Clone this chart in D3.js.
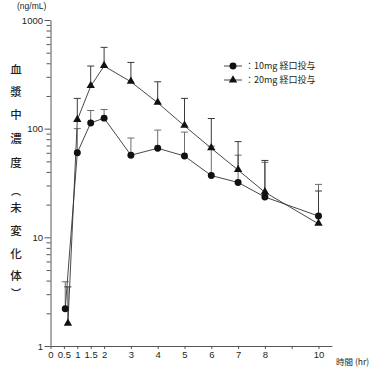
<!DOCTYPE html>
<html>
<head>
<meta charset="utf-8">
<script src="https://cdn.jsdelivr.net/npm/d3@7"></script>
<style>
  html, body { margin: 0; padding: 0; background: #fff; }
  svg { display: block; }
</style>
</head>
<body>
<div id="chart"></div>
<script>
// Data (ng/mL)
const timesLow = [0.55, 1, 1.5, 2, 3, 4, 5, 6, 7, 8, 10];
const meanLow = [2.2, 60, 113, 125, 57, 66, 56, 37, 32, 23.5, 15.7];
const upperLow = [3.9, 100, 147, 150, 82, 97, 93, 69, 57, 49, 30.7];

const timesHigh = [0.65, 1, 1.5, 2, 3, 4, 5, 6, 7, 8, 10];
const meanHigh = [1.6, 120, 246, 377, 270, 173, 106, 66, 41.6, 26, 13.3];
const upperHigh = [3.5, 190, 377, 560, 407, 270, 190, 124, 76, 51, 26.7];

const xTicks = [0, 0.5, 1, 1.5, 2, 3, 4, 5, 6, 7, 8, 9, 10];
const yMajorTicks = [1, 10, 100, 1000];
const legendLabels = ['：10mg 経口投与', '：20mg 経口投与'];
const yTitleChars = ['血', '漿', '中', '濃', '度', '︵', '未', '変', '化', '体', '︶'];

const width = 376;
const height = 370;
const LATIN = 'Helvetica, Arial, "Liberation Sans", sans-serif';
const CJK = '"Noto Sans CJK JP", "Noto Sans", sans-serif';
const INK = '#231f20';

const svg = d3.select('#chart')
    .append('svg')
    .attr('width', width)
    .attr('height', height);

// Scales
const x = d3.scaleLinear()
    .domain([0, 10.5])
    .range([50.5, 50.5 + 10.5 * 26.8]);

const y = d3.scaleLog()
    .domain([1, 1000])
    .range([346, 20]);

// Minor y ticks (2..9 in every decade)
const yMinorTicks = [];
[1, 10, 100].forEach(d => {
    for (let k = 2; k <= 9; k++) yMinorTicks.push(d * k);
});

// Y axis: majors with labels, minors without
svg.append('g')
    .attr('class', 'y-axis')
    .attr('transform', `translate(${x(0)},0)`)
    .call(d3.axisLeft(y)
        .tickValues(yMajorTicks)
        .tickFormat(d3.format('d'))
        .tickSize(6)
        .tickSizeOuter(0)
        .tickPadding(1.5));

svg.append('g')
    .attr('class', 'y-minor')
    .attr('transform', `translate(${x(0)},0)`)
    .call(d3.axisLeft(y)
        .tickValues(yMinorTicks)
        .tickFormat('')
        .tickSize(4))
    .select('.domain').remove();

// X axis
svg.append('g')
    .attr('class', 'x-axis')
    .attr('transform', `translate(0,${y(1)})`)
    .call(d3.axisBottom(x)
        .tickValues(xTicks)
        .tickFormat(d => d === 9 ? '' : d)
        .tickSize(3)
        .tickSizeOuter(0)
        .tickPadding(2));

svg.selectAll('.x-axis, .y-axis, .y-minor')
    .style('font-family', LATIN)
    .style('font-size', '9.5px')
    .style('color', INK);

svg.selectAll('.domain, .tick line')
    .attr('stroke', '#444')
    .attr('stroke-width', 0.9);

// Unit label and axis titles
svg.append('text')
    .attr('x', 17)
    .attr('y', 9)
    .style('font-family', LATIN)
    .style('font-size', '8.5px')
    .style('fill', INK)
    .text('(ng/mL)');

svg.append('text')
    .attr('x', 336)
    .attr('y', 365)
    .style('font-family', CJK)
    .style('font-size', '8.5px')
    .style('fill', INK)
    .text('時間 (hr)');

// vertical title, one glyph per row (brackets a bit smaller)
const yTitlePos = [70, 92, 115, 139, 163, 191, 208, 231, 254, 276, 293];
const isBracket = d => d === '︵' || d === '︶';
svg.append('g')
    .attr('class', 'y-title')
    .selectAll('text')
    .data(yTitleChars)
    .join('text')
    .attr('x', 16)
    .attr('y', (d, i) => yTitlePos[i])
    .attr('dy', '0.35em')
    .attr('text-anchor', 'middle')
    .style('font-family', CJK)
    .style('font-size', d => isBracket(d) ? '10px' : '11.5px')
    .style('font-weight', 500)
    .style('fill', INK)
    .text(d => d);

// Series
const seriesLow = timesLow.map((t, i) => ({ t, v: meanLow[i], up: upperLow[i] }));
const seriesHigh = timesHigh.map((t, i) => ({ t, v: meanHigh[i], up: upperHigh[i] }));

const line = d3.line()
    .x(d => x(d.t))
    .y(d => y(d.v));

const drawErrors = (data, color) => {
    const g = svg.append('g');
    g.selectAll('.err')
        .data(data)
        .join('line')
        .attr('x1', d => x(d.t))
        .attr('x2', d => x(d.t))
        .attr('y1', d => y(d.v))
        .attr('y2', d => y(d.up))
        .attr('stroke', color)
        .attr('stroke-width', 1);
    g.selectAll('.cap')
        .data(data)
        .join('line')
        .attr('x1', d => x(d.t) - 3.5)
        .attr('x2', d => x(d.t) + 3.5)
        .attr('y1', d => y(d.up))
        .attr('y2', d => y(d.up))
        .attr('stroke', color)
        .attr('stroke-width', 1);
};

drawErrors(seriesLow, '#6d6d6d');
drawErrors(seriesHigh, '#3a3a3a');

[seriesLow, seriesHigh].forEach(data => {
    svg.append('path')
        .datum(data)
        .attr('fill', 'none')
        .attr('stroke', '#333')
        .attr('stroke-width', 0.9)
        .attr('d', line);
});

const circleSym = d3.symbol().type(d3.symbolCircle).size(38);
const triSym = d3.symbol().type(d3.symbolTriangle).size(30);

svg.append('g')
    .selectAll('path')
    .data(seriesLow)
    .join('path')
    .attr('transform', d => `translate(${x(d.t)},${y(d.v)})`)
    .attr('d', circleSym)
    .attr('fill', '#111');

svg.append('g')
    .selectAll('path')
    .data(seriesHigh)
    .join('path')
    .attr('transform', d => `translate(${x(d.t)},${y(d.v) - 0.5})`)
    .attr('d', triSym)
    .attr('fill', '#111');

// Legend
const legend = svg.append('g').attr('class', 'legend');
const legendRows = [66, 80];
[circleSym, triSym].forEach((sym, i) => {
    const ly = legendRows[i];
    legend.append('line')
        .attr('x1', 224).attr('x2', 242)
        .attr('y1', ly).attr('y2', ly)
        .attr('stroke', '#333')
        .attr('stroke-width', 0.9);
    legend.append('path')
        .attr('transform', `translate(233,${ly})`)
        .attr('d', sym)
        .attr('fill', '#111');
    legend.append('text')
        .attr('x', 245)
        .attr('y', ly)
        .attr('dy', '0.35em')
        .style('font-family', CJK)
        .style('font-size', '9px')
        .style('fill', INK)
        .text(legendLabels[i]);
});
</script>
</body>
</html>
